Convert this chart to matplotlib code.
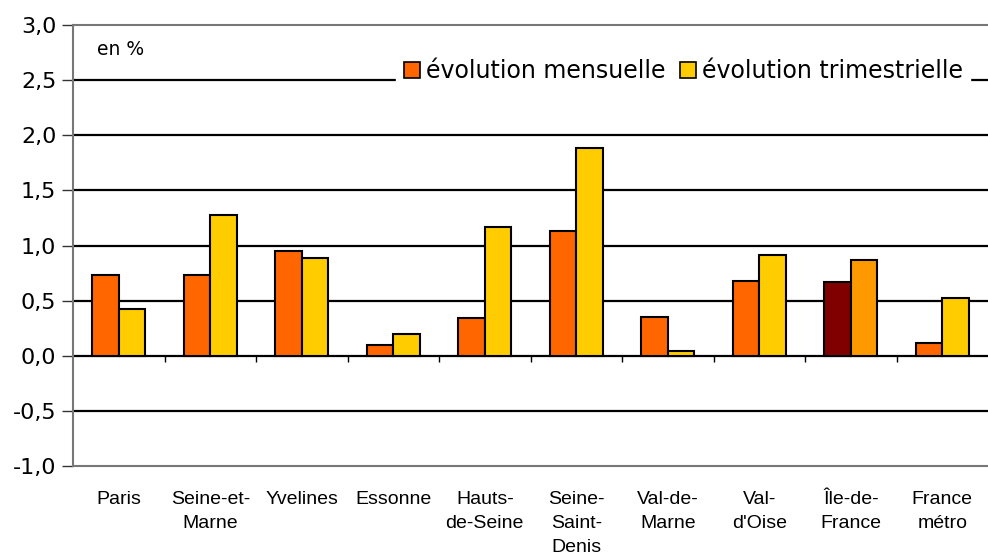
import matplotlib.pyplot as plt
import numpy as np
from matplotlib.patches import Patch

# Data
categories = ["Paris", "Seine-et-\nMarne", "Yvelines", "Essonne", "Hauts-\nde-Seine",
              "Seine-\nSaint-\nDenis", "Val-de-\nMarne", "Val-\nd'Oise", "Île-de-\nFrance",
              "France\nmétro"]
mensuelle = [0.73, 0.73, 0.95, 0.10, 0.34, 1.13, 0.35, 0.68, 0.67, 0.12]
trimestrielle = [0.42, 1.28, 0.89, 0.20, 1.17, 1.88, 0.04, 0.91, 0.87, 0.52]
yticks = [-1.0, -0.5, 0.0, 0.5, 1.0, 1.5, 2.0, 2.5, 3.0]

col_m = ["#FF6600"] * 10
col_t = ["#FFCC00"] * 10
col_m[8] = "#800000"   # Île-de-France highlighted
col_t[8] = "#FF9900"

fig = plt.figure(figsize=(9.88, 5.58), dpi=100)
ax = fig.add_axes([73 / 988, 92 / 558, 1 - 73 / 988, 441 / 558])

x = np.arange(len(categories))
w = 0.29
ax.bar(x - w / 2, mensuelle, w, color=col_m, edgecolor="black", linewidth=1.5, zorder=3)
ax.bar(x + w / 2, trimestrielle, w, color=col_t, edgecolor="black", linewidth=1.5, zorder=3)

ax.set_xlim(-0.5, len(categories) - 0.5)
ax.set_ylim(-1, 3)

# gridlines
for v in yticks[1:-1]:
    ax.axhline(v, color="black", linewidth=1.6, zorder=1)

# separator ticks on the zero line
for b in np.arange(0.5, len(categories) - 0.5, 1):
    ax.vlines(b, -0.06, 0, color="black", linewidth=1, zorder=2)

ax.set_yticks(yticks)
ax.set_yticklabels([f"{v:.1f}".replace(".", ",") for v in yticks], fontsize=16,
                   family="DejaVu Sans")
ax.tick_params(axis="y", direction="out", length=8, width=1, pad=4, color="#333333")

ax.set_xticks(x)
ax.set_xticklabels(categories, fontsize=14, linespacing=1.55,
                   family="Liberation Sans", va="top")
ax.tick_params(axis="x", length=0, pad=18)

for s in ["left", "bottom", "top"]:
    ax.spines[s].set_color("#777777")
    ax.spines[s].set_linewidth(1.5)
ax.spines["right"].set_visible(False)

ax.text(0.026, 0.965, "en %", transform=ax.transAxes, fontsize=13.5, va="top",
        family="DejaVu Sans")

handles = [Patch(facecolor="#FF6600", edgecolor="black", linewidth=1.2),
           Patch(facecolor="#FFCC00", edgecolor="black", linewidth=1.2)]
leg = ax.legend(handles, ["évolution mensuelle", "évolution trimestrielle"], ncol=2,
                loc="center", bbox_to_anchor=(0.667, 0.895), frameon=True,
                fancybox=False, edgecolor="white", framealpha=1,
                prop={"family": "DejaVu Sans", "size": 17},
                handlelength=0.7, handleheight=0.7, handletextpad=0.25,
                columnspacing=0.6, borderpad=0.3, borderaxespad=0)
leg.set_zorder(5)

fig.savefig("out.png", dpi=100)
